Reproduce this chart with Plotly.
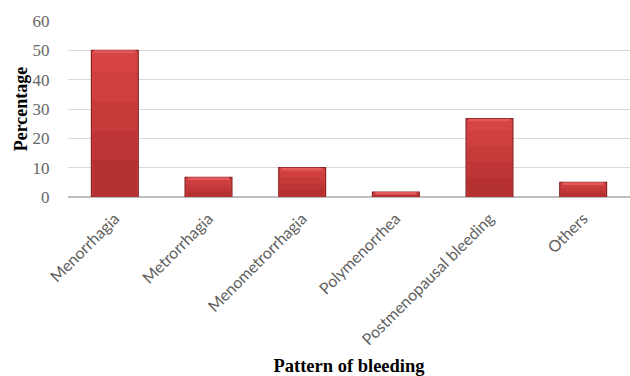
import plotly.graph_objects as go

categories = ["Menorrhagia", "Metrorrhagia", "Menometrorrhagia", "Polymenorrhea",
              "Postmenopausal bleeding", "Others"]
percentages = [50.0, 6.7, 10.0, 1.7, 26.7, 5.0]

y_ticks = [0, 10, 20, 30, 40, 50, 60]

fig = go.Figure()

# vertical shading: stacked overlays, darker towards the base of each bar
shades = [(1.00, "#D64444"), (0.85, "#CF3F3F"), (0.65, "#C73A3A"),
          (0.45, "#BE3535"), (0.25, "#B53131")]
for i, (frac, col) in enumerate(shades):
    fig.add_trace(go.Bar(
        x=categories, y=[v * frac for v in percentages],
        marker=dict(color=col,
                    line=dict(color="#8A2222" if i == 0 else col, width=1.2 if i == 0 else 0)),
        width=0.5 if i == 0 else 0.47,
        hoverinfo="y" if i == 0 else "skip",
    ))

# thin lighter band at the top of each bar for a bevelled look
cap = 0.9
fig.add_trace(go.Bar(
    x=categories, y=[min(cap, v) for v in percentages],
    base=[max(v - cap, 0) for v in percentages],
    marker=dict(color="#E35A5A", line=dict(width=0)),
    width=0.44, hoverinfo="skip",
))

fig.update_layout(
    width=630, height=376,
    margin=dict(l=68, r=0, t=21, b=179),
    paper_bgcolor="white", plot_bgcolor="white",
    barmode="overlay", showlegend=False,
    xaxis=dict(
        automargin=False,
        tickangle=-45,
        tickfont=dict(family="Lato, Open Sans, sans-serif", size=16, color="#5F5F5F"),
        showgrid=False, showline=False,
        ticks="outside", ticklen=5, tickcolor="rgba(0,0,0,0)",
        title=dict(text="<b>Pattern of bleeding</b>",
                   font=dict(family="Liberation Serif, Times New Roman, serif", size=18.5, color="black"),
                   standoff=18),
    ),
    yaxis=dict(
        automargin=False,
        range=[0, 60], tickvals=y_ticks,
        tickfont=dict(family="Liberation Serif, Times New Roman, serif", size=17, color="#666666"),
        showgrid=True, gridcolor="#D9D9D9", gridwidth=1.2,
        zeroline=True, zerolinecolor="#BFBFBF", zerolinewidth=1.5,
        ticks="outside", ticklen=14, tickcolor="rgba(0,0,0,0)",
        title=dict(text="<b>Percentage</b>",
                   font=dict(family="Liberation Serif, Times New Roman, serif", size=18, color="black"),
                   standoff=0),
    ),
)

fig.write_html("out.html")
